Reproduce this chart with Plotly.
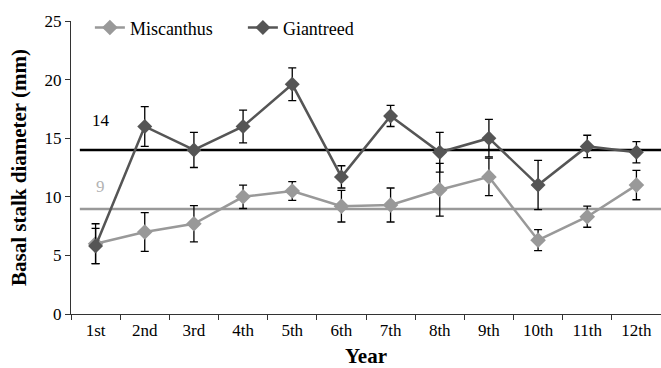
import plotly.graph_objects as go

# Stalk diameter by year of growth
years = ["1st", "2nd", "3rd", "4th", "5th", "6th", "7th", "8th", "9th", "10th", "11th", "12th"]

miscanthus = [6.0, 7.0, 7.7, 10.0, 10.5, 9.2, 9.3, 10.6, 11.7, 6.3, 8.3, 11.0]
miscanthus_err = [1.7, 1.65, 1.55, 1.0, 0.8, 1.35, 1.45, 2.25, 1.6, 0.9, 0.9, 1.25]

giantreed = [5.8, 16.0, 14.0, 16.0, 19.6, 11.7, 16.9, 13.8, 15.0, 11.0, 14.3, 13.8]
giantreed_err = [1.5, 1.7, 1.5, 1.4, 1.4, 0.95, 0.9, 1.7, 1.6, 2.1, 0.95, 0.9]

y_ticks = [0, 5, 10, 15, 20, 25]

FONT = "Liberation Serif, Times New Roman, serif"
MIS_COLOR = "#999999"
GIANT_COLOR = "#555555"

mis_mean = sum(miscanthus) / len(miscanthus)
giant_mean = sum(giantreed) / len(giantreed)

fig = go.Figure()

fig.add_trace(go.Scatter(
    x=years, y=miscanthus, name="Miscanthus", mode="lines+markers",
    line=dict(color=MIS_COLOR, width=2.5),
    marker=dict(symbol="diamond", size=12, color=MIS_COLOR),
    error_y=dict(type="data", array=miscanthus_err, color="black", thickness=1.3, width=4),
))
fig.add_trace(go.Scatter(
    x=years, y=giantreed, name="Giantreed", mode="lines+markers",
    line=dict(color=GIANT_COLOR, width=2.5),
    marker=dict(symbol="diamond", size=11.5, color=GIANT_COLOR),
    error_y=dict(type="data", array=giantreed_err, color="black", thickness=1.3, width=4),
))

# Horizontal mean lines with their rounded values
for mean, color, lbl_color, shift in [(giant_mean, "black", "black", 30),
                                      (mis_mean, MIS_COLOR, "#b3b3b3", 22)]:
    fig.add_shape(type="line", xref="x", yref="y", x0=-0.32, x1=11.6,
                  y0=mean, y1=mean, line=dict(color=color, width=2.5), layer="below")
    fig.add_annotation(x=0.1, y=mean, xref="x", yref="y", yshift=shift,
                       text=f"{round(mean)}", showarrow=False,
                       font=dict(family=FONT, size=17, color=lbl_color))

fig.update_layout(
    width=661, height=368,
    margin=dict(l=71, r=0, t=21, b=54),
    paper_bgcolor="white", plot_bgcolor="white",
    font=dict(family=FONT, size=17, color="black"),
    showlegend=True,
    legend=dict(orientation="h", x=0.032, y=1.04, xanchor="left", yanchor="top",
                font=dict(family=FONT, size=18), entrywidth=108, entrywidthmode="pixels",
                bgcolor="rgba(0,0,0,0)"),
    xaxis=dict(
        type="category", range=[-0.5, 11.5], tickson="boundaries",
        ticks="outside", ticklen=5, tickcolor="#333333",
        showline=True, linecolor="#333333", linewidth=1.3,
        showgrid=False, zeroline=False,
        tickfont=dict(family=FONT, size=17),
        title=dict(text="<b>Year</b>", font=dict(family=FONT, size=21), standoff=11),
    ),
    yaxis=dict(
        range=[0, 25], tickvals=y_ticks,
        ticks="outside", ticklen=5, tickcolor="#333333",
        showline=True, linecolor="#333333", linewidth=1.3,
        showgrid=False, zeroline=False,
        tickfont=dict(family=FONT, size=17),
        title=dict(text="<b>Basal stalk diameter (mm)</b>", font=dict(family=FONT, size=21), standoff=12),
    ),
)

fig.write_html("out.html")
